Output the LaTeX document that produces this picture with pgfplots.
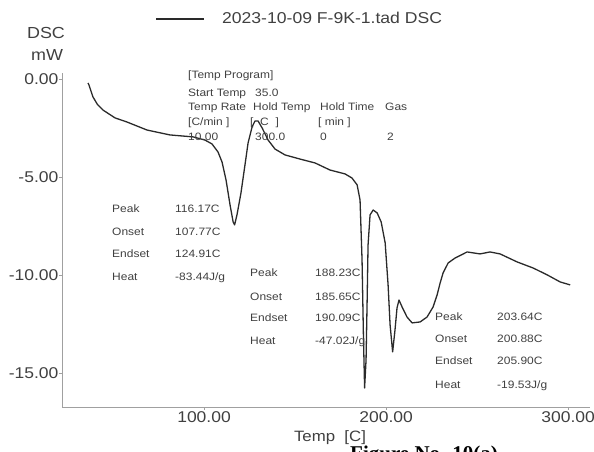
\documentclass[border=0pt]{standalone}
\usepackage{pgfplots}
\pgfplotsset{compat=1.18}
\usepackage{fontspec}
\setmainfont{Liberation Sans}[FakeStretch=1.12]
\newfontfamily\figfont{Liberation Serif}
\definecolor{curve}{HTML}{2A2A2A}
\definecolor{txt}{HTML}{404040}
\definecolor{spine}{HTML}{A0A0A0}
\begin{document}
\begin{tikzpicture}[x=1pt,y=1pt]
\begin{axis}[
  scale only axis, width=528pt, height=334pt,
  at={(0pt,0pt)}, anchor=south west,
  xmin=22, xmax=312, ymin=-16.71, ymax=0.33,
  axis x line=bottom, axis y line=left,
  axis line style={draw=spine, line width=0.8pt, -},
  tick style={draw=spine, line width=0.6pt},
  tick align=outside, major tick length=3pt,
  xtick={100,200,300}, xticklabels={100.00,200.00,300.00},
  ytick={-15,-10,-5,0}, yticklabels={-15.00,-10.00,-5.00,0.00},
  ticklabel style={font=\fontsize{15.6}{18}\selectfont, text=txt},
  xticklabel style={inner sep=1pt},
  yticklabel style={inner sep=0.5pt},
  legend style={draw=none, fill=none, at={(axis description cs:0.1761,1.1617)}, anchor=west,
    inner sep=0pt, nodes={inner sep=0pt, font=\fontsize{15.7}{18}\selectfont, text=txt}},
  legend image code/.code={\draw[#1, line width=2.6pt] (0pt,0pt) -- (48pt,0pt); \path (65pt,0pt);},
  clip=false,
]
\addplot[curve, line width=1.3pt, line join=round] coordinates {
(36.3,-0.18) (36.8,-0.28) (39.0,-0.89) (41.5,-1.28) (44.5,-1.56) (51.1,-1.96)
(57.7,-2.17) (68.7,-2.58) (81.3,-2.83) (94.0,-2.93) (100.5,-3.09) (104.4,-3.29)
(107.7,-3.70) (109.9,-4.21) (112.1,-5.13) (114.3,-6.40) (116.0,-7.27) (116.8,-7.42)
(118.1,-6.91) (120.3,-5.79) (122.5,-4.36) (124.2,-3.24) (126.4,-2.42) (128.0,-2.12)
(129.7,-2.12) (131.9,-2.47) (135.2,-3.09) (139.0,-3.55) (144.5,-3.85) (152.7,-4.06)
(161.0,-4.26) (169.2,-4.62) (177.5,-4.82) (181.3,-5.03) (184.1,-5.38) (185.7,-6.15)
(186.8,-9.21) (187.6,-13.29) (188.2,-15.74) (189.0,-14.31) (189.6,-11.25) (190.1,-8.44)
(191.2,-6.91) (192.9,-6.66) (195.1,-6.81) (197.3,-7.27) (199.5,-8.34) (201.1,-10.48)
(202.2,-12.52) (203.6,-13.90) (204.9,-12.78) (206.0,-11.66) (207.1,-11.25) (208.8,-11.61)
(211.5,-12.12) (214.3,-12.42) (218.7,-12.37) (222.5,-12.12) (225.8,-11.61) (228.0,-11.00)
(229.7,-10.38) (231.3,-9.87) (234.1,-9.36) (237.9,-9.11) (244.5,-8.80) (251.6,-8.90)
(257.1,-8.80) (262.6,-8.90) (272.0,-9.31) (280.8,-9.62) (288.5,-9.97) (295.6,-10.33)
(301.1,-10.48)
};
\addlegendentry{2023-10-09 F-9K-1.tad DSC}
\end{axis}
\begin{scope}[shift={(-62pt,407pt)}, x=1pt, y=-1pt,
  every node/.style={inner sep=0pt, text=txt, text height=0.716em, text depth=0pt}]
  % y label
  \node[anchor=center, font=\fontsize{16}{18}\selectfont] at (46,34.5) {DSC};
  \node[anchor=center, font=\fontsize{16}{18}\selectfont] at (47,57) {mW};
  % x label
  \node[anchor=center, font=\fontsize{15}{18}\selectfont] at (330,438) {Temp\ \ [C]};
  % temp program
  \begin{scope}[every node/.append style={anchor=west, font=\fontsize{10.7}{12}\selectfont}]
  \node at (188,75) {[Temp Program]};
  \node at (188,92.5) {Start Temp};
  \node at (255,92.5) {35.0};
  \node at (188,107) {Temp Rate};
  \node at (253,107) {Hold Temp};
  \node at (320,107) {Hold Time};
  \node at (385,107) {Gas};
  \node at (188,122) {[C/min ]};
  \node at (250,122) {[\ \ C\ \ ]};
  \node at (318,122) {[\ min ]};
  \node at (188,137) {10.00};
  \node at (255,137) {300.0};
  \node at (320,137) {0};
  \node at (387,137) {2};
  % block 1
  \node at (112,209) {Peak};   \node at (175,209) {116.17C};
  \node at (112,232) {Onset};  \node at (175,232) {107.77C};
  \node at (112,254) {Endset}; \node at (175,254) {124.91C};
  \node at (112,277) {Heat};   \node at (175,277) {-83.44J/g};
  % block 2
  \node at (250,273) {Peak};   \node at (315,273) {188.23C};
  \node at (250,297) {Onset};  \node at (315,297) {185.65C};
  \node at (250,318) {Endset}; \node at (315,318) {190.09C};
  \node at (250,341) {Heat};   \node at (315,341) {-47.02J/g};
  % block 3
  \node at (435,317) {Peak};   \node at (497,317) {203.64C};
  \node at (435,339) {Onset};  \node at (497,339) {200.88C};
  \node at (435,361) {Endset}; \node at (497,361) {205.90C};
  \node at (435,385) {Heat};   \node at (497,385) {-19.53J/g};
  \end{scope}
  % cut-off caption
  \node[anchor=base west, text=black, font=\figfont\bfseries\fontsize{21}{24}\selectfont,
        text height=, text depth=] at (350,460) {Figure No. 10(a)};
\end{scope}
\pgfresetboundingbox
\path[use as bounding box] (-62pt,-45pt) rectangle (532pt,407pt);
\end{tikzpicture}
\end{document}
